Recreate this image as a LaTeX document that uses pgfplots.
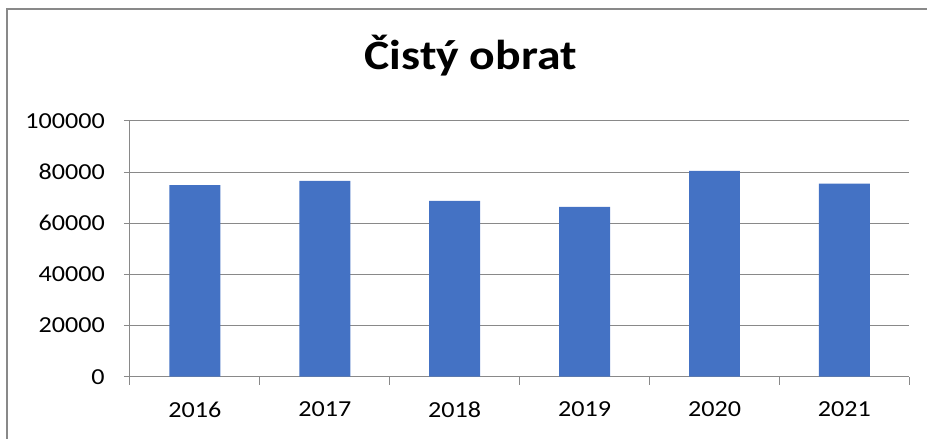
\documentclass[border=0pt]{standalone}
\usepackage{fontspec}
\setmainfont{Carlito}[FakeStretch=1.14]
\usepackage{pgfplots}
\pgfplotsset{compat=1.18}
\definecolor{barblue}{HTML}{4472C4}
\definecolor{gridgray}{HTML}{898989}
\begin{document}
\begin{tikzpicture}[x=1bp,y=1bp]
\path (0,0) rectangle (928,439);
\draw[gridgray, line width=1.3bp] (7,0) -- (7,430) -- (928,430);
\node[anchor=base, inner sep=0pt, font=\fontsize{42}{50}\selectfont\bfseries] at (471,369) {Čistý obrat};
\begin{axis}[
  at={(130bp,62bp)}, anchor=south west,
  scale only axis, width=780bp, height=256bp,
  xmin=-0.5, xmax=5.5, ymin=0, ymax=100000,
  scaled y ticks=false,
  axis x line*=bottom, axis y line*=left,
  axis line style={gridgray, line width=1bp, -},
  ytick={0,20000,40000,60000,80000,100000},
  yticklabels={0,20000,40000,60000,80000,100000},
  xtick={0,1,2,3,4,5},
  xticklabels={2016,2017,2018,2019,2020,2021},
  minor xtick={-0.5,0.5,1.5,2.5,3.5,4.5,5.5},
  tick align=outside,
  major tick length=6bp,
  minor tick length=8bp,
  x tick style={draw=none},
  minor x tick style={draw=gridgray, line width=1bp},
  y tick style={draw=gridgray, line width=1bp},
  ymajorgrids,
  major grid style={gridgray, line width=1bp},
  ticklabel style={font=\fontsize{23}{27}\selectfont, inner sep=0pt},
  yticklabel style={anchor=east, xshift=-19bp},
  xticklabel style={anchor=north, yshift=-19bp},
  /pgf/number format/assume math mode=true,
]
\addplot[ybar, bar width=51bp, fill=barblue, draw=none] coordinates {
  (0,74900) (1,76600) (2,68700) (3,66400) (4,80500) (5,75500)
};
\end{axis}
\end{tikzpicture}
\end{document}
